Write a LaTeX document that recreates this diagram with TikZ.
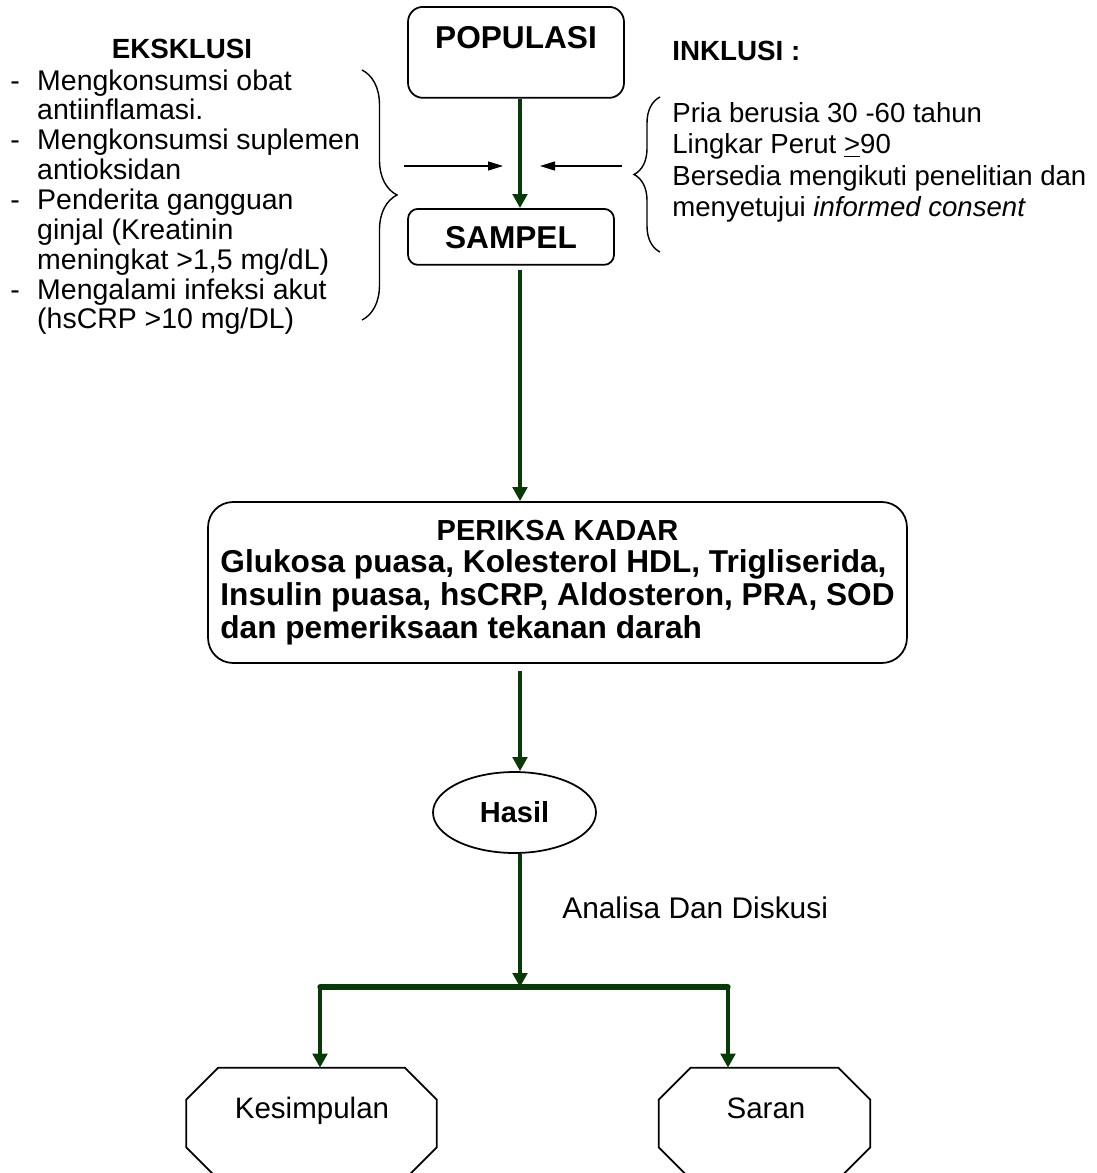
\documentclass[tikz,border=0pt]{standalone}
\usepackage{fontspec}
\setmainfont{Liberation Sans}
\usetikzlibrary{arrows.meta,calc,decorations.pathreplacing,shapes.geometric}

\definecolor{flowgreen}{RGB}{8,58,8}

\begin{document}
\begin{tikzpicture}[x=0.02cm, y=-0.02cm,
    box/.style={draw, line width=1pt, inner sep=0pt, align=center},
    flow/.style={draw=flowgreen, line width=2.7pt, -{Triangle[length=0.28cm, width=0.29cm]}},
    pointer/.style={draw=black, line width=0.8pt, -{Triangle[length=0.3cm, width=0.18cm]}},
    curly/.style={draw=black, line width=0.8pt, decorate},
    txt/.style={font=\fontsize{16.2}{17}\selectfont},
    titlebold/.style={font=\fontsize{15.8}{18}\selectfont\bfseries},
    bigbold/.style={font=\fontsize{18}{18.5}\selectfont\bfseries}]

% General parameters
\def\spineX{520}        % x of the main flow line
\def\chamfer{0.64cm}    % corner cut of the end boxes

% Page frame (the end boxes run past the bottom edge)
\clip (0,0) rectangle (1097,1173);

\coordinate (spine) at (\spineX,0);

% Population and sample
\node (pop) at (516,6) [box, anchor=north, rounded corners=0.3cm, minimum width=4.32cm, text height=0.84cm, text depth=0.98cm, bigbold] {POPULASI};
\node (samp) at (511,208) [box, anchor=north, rounded corners=0.2cm, minimum width=4.12cm, text height=0.8cm, text depth=0.32cm, bigbold] {SAMPEL};
\draw[flow] (pop.south -| spine) -- (samp.north -| spine);

% Exclusion criteria on the left
\node (extitle) at (182,58) [anchor=base, inner sep=0pt, titlebold] {EKSKLUSI};
\node (exlist) at (10,90) [anchor=base west, inner sep=0pt, txt] {\begin{tabular}[t]{@{}l@{\hspace{9.9pt}}l@{}}
  - & Mengkonsumsi obat\\
    & antiinflamasi.\\
  - & Mengkonsumsi suplemen\\
    & antioksidan\\
  - & Penderita gangguan\\
    & ginjal (Kreatinin\\
    & meningkat >1,5 mg/dL)\\
  - & Mengalami infeksi akut\\
    & (hsCRP >10 mg/DL)
\end{tabular}};
\draw[curly, decoration={brace, amplitude=0.7cm}] (362,70) -- (362,320);

% Inclusion criteria on the right
\node (intitle) at (672,60) [anchor=base west, inner sep=0pt, titlebold] {INKLUSI :};
\node (inlist) at (672,122) [anchor=base west, inner sep=0pt, font=\fontsize{15.7}{18}\selectfont] {\begin{tabular}[t]{@{}l@{}}
  Pria berusia 30 -60 tahun\\
  Lingkar Perut \underline{>}90\\
  Bersedia mengikuti penelitian dan\\
  menyetujui \textit{informed consent}
\end{tabular}};
\draw[curly, decoration={brace, amplitude=0.52cm}] (660,252) -- (660,97);

% Small arrows pointing at the flow line
\coordinate (exfrom) at (404,166);
\coordinate (exto) at (503,166);
\coordinate (infrom) at (622,166);
\coordinate (into) at (540,166);
\draw[pointer] (exfrom) -- (exto);
\draw[pointer] (infrom) -- (into);

% Measurements
\node (periksa) at (557.5,582.5) [box, rounded corners=0.5cm, minimum width=13.98cm, minimum height=3.22cm, bigbold] {\begin{tabular}{@{}l@{}}
  \multicolumn{1}{@{}c@{}}{\fontsize{16.5}{18.5}\selectfont PERIKSA KADAR}\\
  Glukosa puasa, Kolesterol HDL, Trigliserida,\\
  Insulin puasa, hsCRP, Aldosteron, PRA, SOD\\
  dan pemeriksaan tekanan darah
\end{tabular}};
\draw[flow] ($(samp.south -| spine)+(0,4)$) -- (periksa.north -| spine);

% Result
\node (hasil) at (514.5,812.5) [draw, ellipse, line width=1pt, inner sep=0pt, minimum width=3.26cm, minimum height=1.62cm, font=\fontsize{16.5}{18}\selectfont\bfseries] {Hasil};
\draw[flow] ($(periksa.south -| spine)+(0,7)$) -- (hasil.north -| spine);

% Split to conclusion and advice
\coordinate (barL) at (320,987);
\coordinate (barR) at (728,987);
\draw[flow, line width=2.3pt] (hasil.south -| spine) -- (barL -| spine);
\node (analisa) at (562,918) [anchor=base west, inner sep=0pt, font=\fontsize{17}{18}\selectfont] {Analisa Dan Diskusi};
\draw[flowgreen, line width=3pt, line cap=round] (barL) -- (barR);

\node (kes) at (311.5,1123.5) [inner sep=0pt, minimum width=5.0cm, minimum height=2.22cm] {};
\node (sar) at (764.5,1123.5) [inner sep=0pt, minimum width=4.22cm, minimum height=2.22cm] {};
\foreach \n in {kes,sar} {
    % octagon outline round each end box
    \draw[line width=1pt] ([xshift=\chamfer]\n.north west) -- ([xshift=-\chamfer]\n.north east)
        -- ([yshift=-\chamfer]\n.north east) -- ([yshift=\chamfer]\n.south east)
        -- ([xshift=-\chamfer]\n.south east) -- ([xshift=\chamfer]\n.south west)
        -- ([yshift=\chamfer]\n.south west) -- ([yshift=-\chamfer]\n.north west) -- cycle;
}
\node (kestext) at (312,1118) [anchor=base, inner sep=0pt, font=\fontsize{16.8}{18}\selectfont] {Kesimpulan};
\node (sartext) at (766,1118) [anchor=base, inner sep=0pt, font=\fontsize{16.8}{18}\selectfont] {Saran};

\draw[flow] (barL) -- (barL |- kes.north);
\draw[flow] (barR) -- (barR |- sar.north);

\end{tikzpicture}
\end{document}
